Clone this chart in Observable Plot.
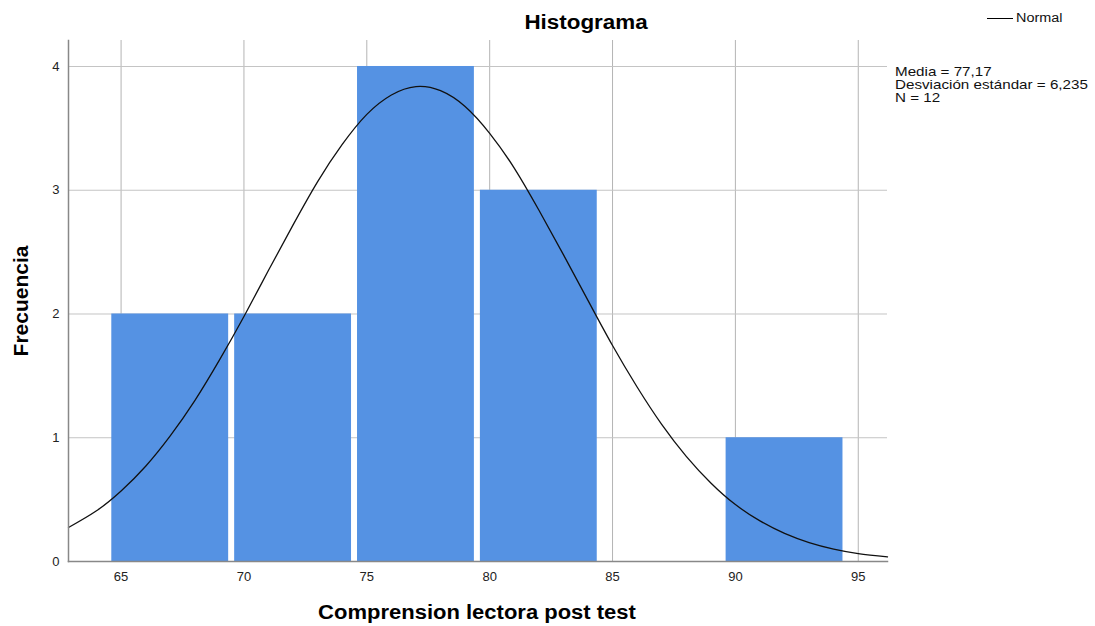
<!DOCTYPE html>
<html>
<head>
<meta charset="utf-8">
<script src="https://cdn.jsdelivr.net/npm/d3@7"></script>
<script src="https://cdn.jsdelivr.net/npm/@observablehq/plot@0.6"></script>
<style>
  html, body { margin: 0; padding: 0; background: #fff; }
  #wrap { position: relative; width: 1095px; height: 626px; font-family: "Liberation Sans", Arial, sans-serif; color: #000; }
  .abs { position: absolute; white-space: nowrap; }
  #title { left: 586px; top: 22px; transform: translate(-50%, -50%) scaleX(1.12); font-weight: bold; font-size: 20px; }
  #xlabel { left: 477px; top: 612px; transform: translate(-50%, -50%) scaleX(1.1); font-weight: bold; font-size: 20px; }
  #ylabel { left: 21px; top: 301px; transform: translate(-50%, -50%) rotate(-90deg); font-weight: bold; font-size: 21px; }
  #legend { left: 987px; top: 11px; font-size: 12px; display: flex; align-items: center; color: #111; }
  #legend span.sw { display: inline-block; width: 26px; height: 0; border-top: 1.3px solid #000; margin-right: 3px; }
  #legend span.tx { display: inline-block; transform: scaleX(1.2); transform-origin: left center; }
  #stats { left: 0; top: 0; }
</style>
</head>
<body>
<div id="wrap">
  <div id="chart"></div>
  <div class="abs" id="title">Histograma</div>
  <div class="abs" id="xlabel">Comprension lectora post test</div>
  <div class="abs" id="ylabel">Frecuencia</div>
  <div class="abs" id="legend"><span class="sw"></span><span class="tx">Normal</span></div>
  <svg class="abs" id="stats" width="1095" height="130"></svg>
</div>
<script>
// Histogram bins
const binStart = [64.5, 69.5, 74.5, 79.5, 89.5];
const binEnd   = [69.5, 74.5, 79.5, 84.5, 94.5];
const counts   = [2, 2, 4, 3, 1];

// Normal curve points (read/estimated from picture)
const curveX = [62.86, 64, 65, 66, 67, 68, 69, 70, 71, 72, 73, 74, 75, 76, 77, 78, 79, 80, 81, 82, 83, 84, 85, 86, 87, 88, 89, 90, 91, 92, 93, 94, 95, 96.19];
const curveY = [0.275, 0.41, 0.57, 0.77, 1.015, 1.30, 1.627, 1.98, 2.353, 2.72, 3.07, 3.37, 3.613, 3.77, 3.838, 3.805, 3.677, 3.46, 3.179, 2.84, 2.48, 2.11, 1.745, 1.41, 1.108, 0.85, 0.635, 0.46, 0.328, 0.227, 0.153, 0.10, 0.064, 0.037];

// Tick labels
const xTicks = [65, 70, 75, 80, 85, 90, 95];
const yTicks = [0, 1, 2, 3, 4];

// Summary stats
const statLines = ["Media = 77,17", "Desviación estándar = 6,235", "N = 12"];

// stats block (SVG, horizontally stretched like the reference)
const sg = d3.select("#stats").append("g")
  .attr("font-family", "'Liberation Sans', Arial, sans-serif")
  .attr("font-size", 12.5)
  .attr("fill", "#111");
const st = sg.selectAll("text").data(statLines).join("text")
  .attr("x", 0)
  .attr("y", (d, i) => 76 + i * 13)
  .text(d => d);
let maxW = 0;
st.each(function() { maxW = Math.max(maxW, this.getComputedTextLength()); });
const sx = maxW > 0 ? Math.min(1.4, 193 / maxW) : 1.2;
sg.attr("transform", `translate(895,0) scale(${sx},1)`);

const bars = binStart.map((s, i) => ({x1: s, x2: binEnd[i], y: counts[i]}));
const curve = curveX.map((x, i) => ({x, y: curveY[i]}));

const chart = Plot.plot({
  width: 1095,
  height: 626,
  marginLeft: 68,
  marginRight: 208,
  marginTop: 40,
  marginBottom: 65,
  style: {fontFamily: "'Liberation Sans', Arial, sans-serif", fontSize: "13px", color: "#222", background: "#fff"},
  x: {domain: [62.86, 96.19], label: null},
  y: {domain: [0, 4.21], label: null},
  marks: [
    Plot.gridX(xTicks, {stroke: "#b4b4b4", strokeOpacity: 1, strokeWidth: 1}),
    Plot.gridY(yTicks.filter(d => d > 0), {stroke: "#c4c4c4", strokeOpacity: 1, strokeWidth: 1}),
    Plot.rectY(bars, {x1: "x1", x2: "x2", y: "y", fill: "#5592e3", insetLeft: 3, insetRight: 3}),
    Plot.line(curve, {x: "x", y: "y", stroke: "#111", strokeWidth: 1.3, curve: "natural"}),
    Plot.frame({anchor: "left", stroke: "#888", strokeWidth: 1.5}),
    Plot.frame({anchor: "bottom", stroke: "#888", strokeWidth: 1.5}),
    Plot.axisX(xTicks, {tickSize: 0, tickPadding: 10, fontSize: 13, fill: "#222", label: null, tickFormat: d => String(d)}),
    Plot.axisY(yTicks, {tickSize: 0, tickPadding: 9, fontSize: 13, fill: "#222", label: null, tickFormat: d => String(d)})
  ]
});
document.getElementById("chart").appendChild(chart);
</script>
</body>
</html>
